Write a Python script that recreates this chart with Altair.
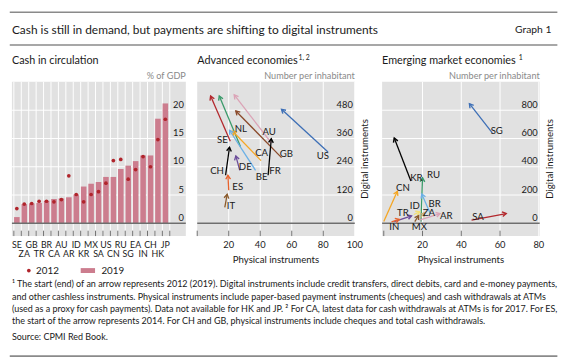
import altair as alt
import pandas as pd

FONT = "Lato"
INK = "#1a1a1a"
GRAY_BG = "#e1e1e1"
AXIS_GRAY = "#6e6e6e"
RULE_GRAY = "#8a8a8a"
BAR = "#cc7d8e"
DOT = "#b0242b"
CHEVRON = "M-0.6,1L0,0L0.6,1"

# ---------------- data ----------------
countries = ["SE", "ZA", "GB", "TR", "BR", "CA", "AU", "AR", "ID", "KR", "MX",
             "SA", "US", "CN", "RU", "SG", "EA", "IN", "CH", "HK", "JP"]
cash_2019 = [1.1, 3.4, 3.5, 3.6, 4.0, 4.3, 4.4, 4.6, 5.1, 6.5, 7.0,
             7.3, 8.2, 8.2, 9.6, 10.2, 11.0, 12.0, 12.0, 18.5, 21.2]
cash_2012 = [2.6, 3.4, 3.5, 3.9, 3.9, 3.8, 4.2, 8.4, 5.1, 3.8, 5.1,
             5.6, 7.1, 11.1, 11.3, 7.8, 9.5, 11.8, 10.0, 14.8, 18.4]
cash_ticks = [0, 5, 10, 15, 20]

adv_codes = ["SE", "NL", "AU", "GB", "US", "CA", "BE", "DE", "FR", "CH", "ES", "IT"]
adv_phys_2012 = [21, 27.5, 47, 53.5, 83, 40.5, 37, 27, 45, 18, 20, 17.5]
adv_digi_2012 = [348, 325, 342, 279, 303, 266, 225, 225, 204, 204, 140, 68]
adv_phys_2019 = [8.5, 14, 23.5, 24.5, 53.5, 22.5, 20.5, 24.5, 47, 20.5, 19.5, 19]
adv_digi_2019 = [540, 540, 545, 477, 484, 391, 395, 286, 359, 323, 204, 123]
adv_label_x = [16, 27.7, 45.7, 56.5, 79.7, 40.9, 40.9, 30.5, 49.4, 12.6, 25.7, 21.4]
adv_label_y = [355, 402, 386, 293, 286, 300, 195, 238, 222, 222, 154, 75]
adv_colors = ["#b3282d", "#3a9a6a", "#dba3b6", "#8b4a2b", "#3d6fb6", "#f5a623",
              "#6ab0e6", "#6b4c9a", "#000000", "#000000", "#e8622c", "#8b5a2b"]
adv_y_ticks = [0, 120, 240, 360, 480]
adv_x_labels = [20, 40, 60, 80, 100]
adv_x_ticks = [0, 20, 40, 60, 80]

em_codes = ["SG", "KR", "CN", "RU", "BR", "ID", "ZA", "AR", "SA", "TR", "IN", "MX"]
em_phys_2012 = [56, 14, 0, 19.2, 24, 15.5, 19, 18.4, 45.3, 5.4, 4, 16]
em_digi_2012 = [639, 299, 12, 12, 69, 62, 40, 23, 23, 12, 10, 12]
em_phys_2019 = [44.2, 5.4, 7, 20, 19.6, 18.6, 21, 29, 63.2, 14.3, 8, 18]
em_digi_2019 = [846, 603, 226, 322, 207, 81, 75, 69, 69, 53, 28, 55]
em_label_x = [58.3, 16.8, 9.9, 25.7, 26.2, 16, 23.3, 32.3, 48.6, 9.9, 5.4, 18.4]
em_label_y = [655, 322, 246, 338, 138, 122, 76, 53, 46, 69, -30, -30]
em_colors = ["#3d6fb6", "#000000", "#f5a623", "#3a9a6a", "#6ab0e6", "#f2df74",
             "#c9b27a", "#dba3b6", "#b3282d", "#6b4c9a", "#e8622c", "#8b5a2b"]
em_y_ticks = [0, 200, 400, 600, 800]
em_x_labels = [20, 40, 60, 80]
em_x_ticks = [0, 20, 40, 60]

title = "Cash is still in demand, but payments are shifting to digital instruments"
graph_no = "Graph 1"
panel_titles = ["Cash in circulation", "Advanced economies", "Emerging market economies"]
panel_sup = ["", "1, 2", "1"]
unit_texts = ["% of GDP", "Number per inhabitant", "Number per inhabitant"]
axis_titles = ["Digital instruments", "Physical instruments"]
legend_labels = ["2012", "2019"]
footnotes = [
    "\u00b9  The start (end) of an arrow represents 2012 (2019). Digital instruments include credit transfers, direct debits, card and e-money payments,",
    "and other cashless instruments. Physical instruments include paper-based payment instruments (cheques) and cash withdrawals at ATMs",
    "(used as a proxy for cash payments). Data not available for HK and JP.   \u00b2  For CA, latest data for cash withdrawals at ATMs is for 2017. For ES,",
    "the start of the arrow represents 2014. For CH and GB, physical instruments include cheques and total cash withdrawals.",
]
source = "Source: CPMI Red Book."

# ---------------- layout ----------------
W1, W2, W3, H = 177, 160.4, 160.4, 157
SUP_X = [0, 103, 139]
TICK_FS = 9.5


def one():
    return pd.DataFrame({"k": [0]})


def txt(t, x, y, size, color=INK, align="left", baseline="middle", angle=None):
    props = dict(font=FONT, fontSize=size, color=color, align=align, baseline=baseline)
    if angle is not None:
        props["angle"] = angle
    return alt.Chart(pd.DataFrame({"t": [t]})).mark_text(**props).encode(
        text="t:N", x=alt.value(x), y=alt.value(y))


def hrule(x1, x2, y, color, width):
    return alt.Chart(one()).mark_rule(color=color, strokeWidth=width).encode(
        x=alt.value(x1), x2=alt.value(x2), y=alt.value(y))


def vals_df(vals):
    return pd.DataFrame({"v": vals, "s": [str(v) for v in vals]})


def hgrid(vals, ys):
    return alt.Chart(vals_df(vals)).mark_rule(color="white", strokeWidth=1).encode(
        y=alt.Y("v:Q", scale=ys, axis=None))


def vgrid(vals, xs):
    return alt.Chart(vals_df(vals)).mark_rule(color="white", strokeWidth=1).encode(
        x=alt.X("v:Q", scale=xs, axis=None))


def ylabels(vals, ys, W):
    return alt.Chart(vals_df(vals)).mark_text(
        font=FONT, fontSize=TICK_FS, color=INK, align="right", baseline="bottom", dy=-0.5).encode(
        y=alt.Y("v:Q", scale=ys, axis=None), x=alt.value(W - 2), text="s:N")


def xlabels(vals, xs):
    return alt.Chart(vals_df(vals)).mark_text(
        font=FONT, fontSize=TICK_FS, color=INK, align="center", baseline="middle").encode(
        x=alt.X("v:Q", scale=xs, axis=None), y=alt.value(H + 9.2), text="s:N")


def xticks(vals, xs):
    return alt.Chart(vals_df(vals)).mark_rule(color=AXIS_GRAY, strokeWidth=1).encode(
        x=alt.X("v:Q", scale=xs, axis=None), y=alt.value(H - 5.5), y2=alt.value(H))


def zero_line(ys):
    return alt.Chart(pd.DataFrame({"z": [0]})).mark_rule(color=AXIS_GRAY, strokeWidth=1.6).encode(
        y=alt.Y("z:Q", scale=ys, axis=None))


def panel_header(i, W):
    layers = [txt(panel_titles[i], 0, -20.7, 11)]
    if panel_sup[i]:
        layers.append(txt(panel_sup[i], SUP_X[i], -24.3, 7))
    layers.append(txt(unit_texts[i], W, -5.9, 9.3, color="#8a8a8a", align="right"))
    return layers


# ---------------- panel 1 ----------------
bar_df = pd.DataFrame({"country": countries, "v19": cash_2019, "v12": cash_2012,
                       "i": list(range(len(countries)))})
xs1 = alt.Scale(domain=[-0.26, 23.16], nice=False, zero=False)
ys1 = alt.Scale(domain=[-2.26, 25.02], nice=False, zero=False)
base1 = alt.Chart(bar_df).transform_calculate(
    x0="datum.i + 0.03", x1="datum.i + 0.78", xc="datum.i + 0.4", row="datum.i % 2")
bounds1 = list(range(len(countries) + 1))

bars = base1.mark_bar(color=BAR).encode(
    x=alt.X("x0:Q", scale=xs1, axis=None),
    x2="x1:Q",
    y=alt.Y("v19:Q", scale=ys1, axis=None),
    y2=alt.datum(0),
)
dots = base1.mark_circle(size=14, color=DOT, opacity=1).encode(
    x=alt.X("xc:Q", scale=xs1, axis=None), y=alt.Y("v12:Q", scale=ys1, axis=None))
lab_top = base1.transform_filter("datum.row == 0").mark_text(font=FONT, fontSize=9, color=INK).encode(
    x=alt.X("xc:Q", scale=xs1, axis=None), y=alt.value(H + 9.2), text="country:N")
lab_bot = base1.transform_filter("datum.row == 1").mark_text(font=FONT, fontSize=9, color=INK).encode(
    x=alt.X("xc:Q", scale=xs1, axis=None), y=alt.value(H + 18.1), text="country:N")

legend = [
    alt.Chart(one()).mark_circle(size=14, color=DOT, opacity=1).encode(x=alt.value(17.2), y=alt.value(192.1)),
    txt(legend_labels[0], 24.6, 192.1, 10),
    alt.Chart(one()).mark_rect(color=BAR).encode(x=alt.value(70), x2=alt.value(84.6),
                                                 y=alt.value(189.6), y2=alt.value(194.6)),
    txt(legend_labels[1], 91.1, 192.1, 10),
]

RX0, RX1 = -2.2, 555.2
frame = [
    hrule(RX0, RX1, -70.9, RULE_GRAY, 1.5),
    txt(title, 0, -53.2, 12.1),
    txt(graph_no, 549.2, -53.2, 10.5, align="right"),
    hrule(RX0, RX1, -37.4, RULE_GRAY, 1.5),
]
foot_y = [206.2, 218.7, 230.8, 243.0]
notes = [txt(line, 0, fy, 9.15) for line, fy in zip(footnotes, foot_y)]
notes.append(txt(source, 0, 259.4, 9.15))
notes.append(hrule(RX0, RX1, 279.2, RULE_GRAY, 2))

p1 = alt.layer(
    hgrid(cash_ticks, ys1), vgrid(bounds1, xs1), bars, zero_line(ys1), xticks(bounds1, xs1),
    dots, ylabels(cash_ticks, ys1, W1), lab_top, lab_bot, *legend, *frame, *notes,
    *panel_header(0, W1)
).properties(width=W1, height=H)


# ---------------- arrow panels ----------------
def arrow_panel(i, W, codes, x12, y12, x19, y19, lx, ly, colors, xdom, ydom,
                xlab_vals, xtick_vals, ytick_vals):
    df = pd.DataFrame({"code": codes, "x12": x12, "y12": y12, "x19": x19, "y19": y19,
                       "lx": lx, "ly": ly, "col": colors})
    xs = alt.Scale(domain=xdom, nice=False, zero=False)
    ys = alt.Scale(domain=ydom, nice=False, zero=False)
    sx = W / (xdom[1] - xdom[0])
    sy = H / (ydom[1] - ydom[0])
    lines = alt.Chart(df).mark_rule(strokeWidth=1.3).encode(
        x=alt.X("x12:Q", scale=xs, axis=None),
        x2="x19:Q",
        y=alt.Y("y12:Q", scale=ys, axis=None),
        y2="y19:Q",
        color=alt.Color("col:N", scale=None),
    )
    heads = alt.Chart(df).transform_calculate(
        ang=f"(atan2((datum.x19 - datum.x12) * {sx}, (datum.y19 - datum.y12) * {sy}) * 180 / PI + 360) % 360"
    ).mark_point(shape=CHEVRON, size=64, filled=False, strokeWidth=1.4, opacity=1).encode(
        x=alt.X("x19:Q", scale=xs, axis=None),
        y=alt.Y("y19:Q", scale=ys, axis=None),
        angle=alt.Angle("ang:Q", scale=None),
        color=alt.Color("col:N", scale=None),
    )
    labels = alt.Chart(df).mark_text(font=FONT, fontSize=9.8, color=INK).encode(
        x=alt.X("lx:Q", scale=xs, axis=None), y=alt.Y("ly:Q", scale=ys, axis=None), text="code:N")
    extra = [
        txt(axis_titles[0], W + 10.4, H / 2, 9.8, align="center", angle=270),
        txt(axis_titles[1], W / 2, H + 24, 9.8, align="center"),
    ]
    return alt.layer(
        hgrid(ytick_vals, ys), vgrid(xlab_vals, xs), zero_line(ys), xticks(xtick_vals, xs),
        ylabels(ytick_vals, ys, W), xlabels(xlab_vals, xs),
        lines, heads, labels, *extra, *panel_header(i, W)
    ).properties(width=W, height=H)


p2 = arrow_panel(1, W2, adv_codes, adv_phys_2012, adv_digi_2012, adv_phys_2019, adv_digi_2019,
                 adv_label_x, adv_label_y, adv_colors, [0, 100], [-54.2, 600.5],
                 adv_x_labels, adv_x_ticks, adv_y_ticks)
p3 = arrow_panel(2, W3, em_codes, em_phys_2012, em_digi_2012, em_phys_2019, em_digi_2019,
                 em_label_x, em_label_y, em_colors, [-0.86, 80.46], [-90.4, 1000.8],
                 em_x_labels, em_x_ticks, em_y_ticks)

inner = alt.hconcat(p2, p3, spacing=27.2, bounds="flush")
chart = alt.hconcat(p1, inner, spacing=11.6, bounds="flush").properties(
    padding=0, background="white"
).configure_view(fill=GRAY_BG, strokeWidth=0)

chart.save("out.html", embed_options={"renderer": "svg", "actions": False})
